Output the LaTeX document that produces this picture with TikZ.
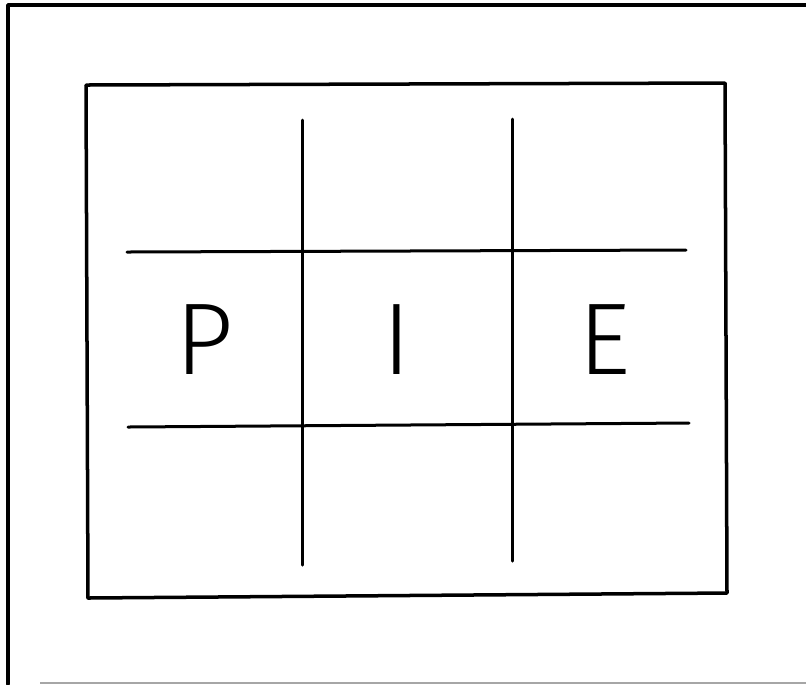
\documentclass[tikz,border=0pt]{standalone}
\usepackage{fontspec}
\newfontfamily\plotfont{Fira Sans Light}

\begin{document}
\begin{tikzpicture}
    [x=0.01cm, y=-0.01cm,
    frame/.style={line width=0.035cm, line cap=round, line join=round},
    grid line/.style={line width=0.03cm, line cap=round},
    letter/.style={inner sep=0pt, anchor=base, font=\plotfont\fontsize{29}{29}\selectfont}]
    \useasboundingbox (0,0) rectangle (806,684);
    % outer sheet
    \draw[frame] (806,5) -- (8,5) -- (8,684);
    \draw[black!35, line width=0.025cm] (40,683) -- (806,683);
    % board
    \draw[frame] (86,85) -- (725,83) -- (727,593) -- (88,598) -- cycle;
    \draw[grid line] (302,120) -- (302,565);
    \draw[grid line] (512,119) -- (512,561);
    \draw[grid line] (127,252) -- (686,250);
    \draw[grid line] (128,427) -- (689,423);
    % middle row
    \node[letter] (p) at (205,374) {P};
    \node[letter] (i) at (397,374) {I};
    \node[letter] (e) at (605,374) {E};
\end{tikzpicture}
\end{document}
